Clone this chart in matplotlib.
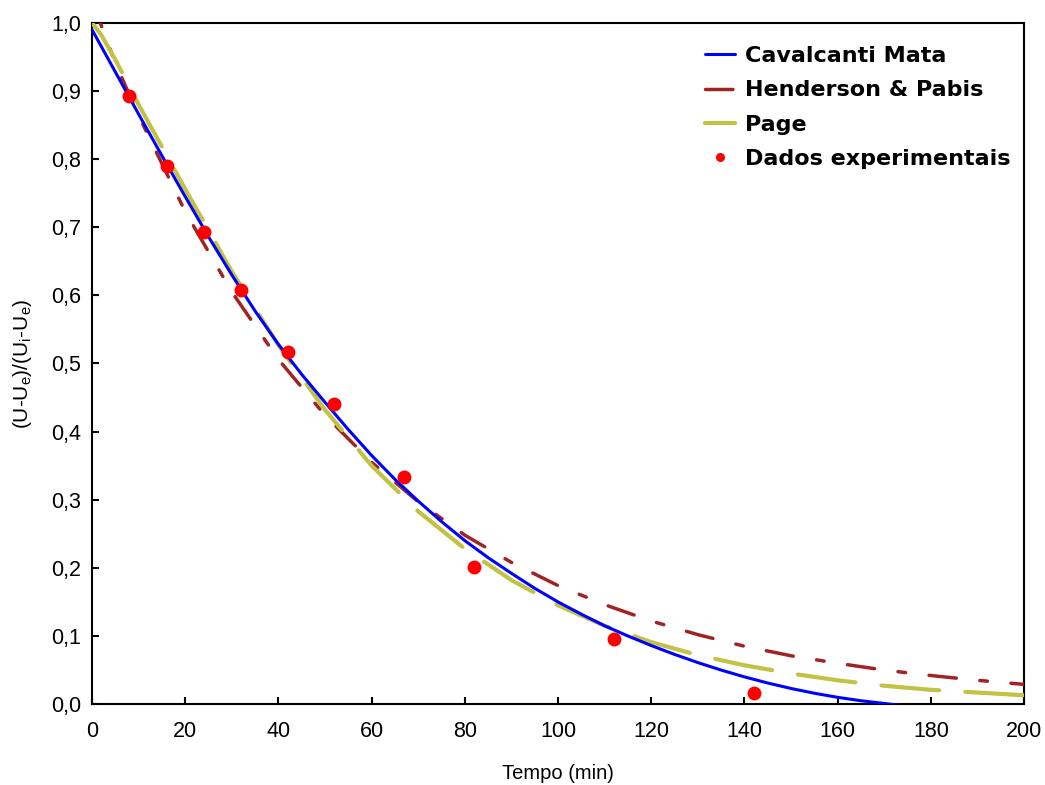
import matplotlib
matplotlib.use("Agg")
import matplotlib.pyplot as plt
from matplotlib.ticker import FuncFormatter

plt.rcParams['font.family'] = ['Liberation Sans', 'DejaVu Sans']

# dados experimentais
t_exp = [8, 16, 24, 32, 42, 52, 67, 82, 112, 142]
mr_exp = [0.893, 0.790, 0.693, 0.608, 0.517, 0.440, 0.334, 0.202, 0.096, 0.017]

# curvas dos modelos
t_cav = list(range(0, 185, 5))
mr_cavalcanti = [0.990, 0.928, 0.866, 0.805, 0.745, 0.686, 0.630, 0.577, 0.528,
                 0.484, 0.443, 0.403, 0.365, 0.330, 0.298, 0.268, 0.240, 0.215,
                 0.192, 0.170, 0.150, 0.132, 0.115, 0.100, 0.086, 0.073, 0.061,
                 0.050, 0.040, 0.031, 0.023, 0.016, 0.010, 0.005, 0.001, -0.003,
                 -0.007]

t_mod = [0, 2, 5, 10, 20, 30, 40, 50, 60, 70, 80, 90, 100, 110, 120, 130,
         140, 150, 160, 170, 180, 190, 200]
mr_henderson = [1.032, 0.996, 0.941, 0.864, 0.723, 0.605, 0.506, 0.424, 0.355,
                0.297, 0.248, 0.208, 0.174, 0.146, 0.122, 0.102, 0.085, 0.071,
                0.060, 0.050, 0.042, 0.035, 0.029]
mr_page = [1.000, 0.982, 0.946, 0.880, 0.756, 0.635, 0.527, 0.432, 0.350,
           0.283, 0.228, 0.182, 0.145, 0.115, 0.091, 0.072, 0.057, 0.045,
           0.035, 0.027, 0.021, 0.017, 0.013]

fig = plt.figure(figsize=(10.45, 7.85), dpi=100)
ax = fig.add_axes([0.088, 0.103, 0.892, 0.868])

ax.plot(t_cav, mr_cavalcanti, color='#0000FF', lw=2.2, label='Cavalcanti Mata',
        solid_capstyle='round', zorder=4)
ax.plot(t_mod, mr_henderson, color='#A02424', lw=2.5, dashes=(7.9, 6.8, 2.2, 6.8),
        dash_capstyle='round', label='Henderson & Pabis', zorder=3)
ax.plot(t_mod, mr_page, color='#C2C244', lw=3, dashes=(13.9, 6.3),
        dash_capstyle='round', label='Page', zorder=3)
ax.plot(t_exp, mr_exp, 'o', color='#FF0000', ms=10, mec='none',
        label='Dados experimentais', zorder=5)

ax.set_xlim(0, 200)
ax.set_ylim(0, 1.0)
ax.set_xticks(range(0, 201, 20))
ax.set_yticks([i / 10 for i in range(11)])
ax.yaxis.set_major_formatter(FuncFormatter(lambda v, p: f"{v:.1f}".replace('.', ',')))
ax.tick_params(direction='in', length=5, width=1.5, labelsize=15.5)
ax.tick_params(axis='x', pad=12)
ax.tick_params(axis='y', pad=8)
for s in ax.spines.values():
    s.set_linewidth(1.5)

ax.set_xlabel('Tempo (min)', fontsize=14.5, labelpad=16)
ax.set_ylabel('(U-U$_\\mathregular{e}$)/(U$_\\mathregular{i}$-U$_\\mathregular{e}$)',
              fontsize=15, labelpad=12)

leg = ax.legend(loc='upper left', bbox_to_anchor=(0.658, 0.966), frameon=False,
                prop={'family': 'DejaVu Sans', 'weight': 'bold', 'size': 16},
                handlelength=1.35, handletextpad=0.45, labelspacing=0.65,
                borderpad=0, borderaxespad=0, markerscale=0.65)

fig.savefig('out.png', dpi=100)
